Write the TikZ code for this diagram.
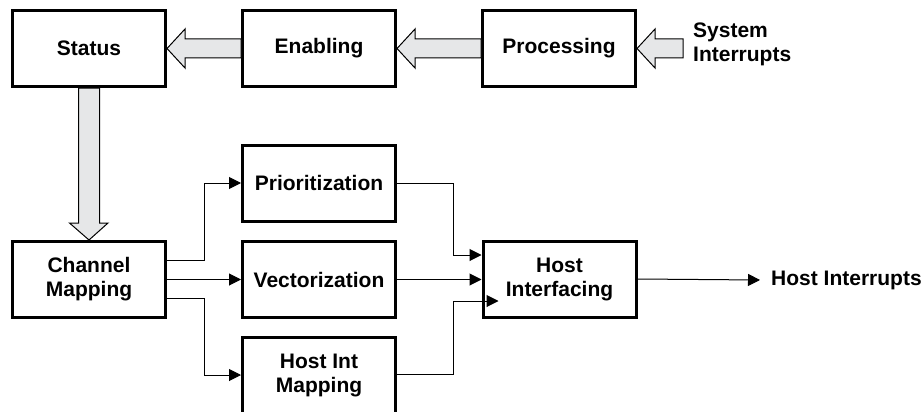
\documentclass[tikz,border=0pt]{standalone}
\usepackage{fontspec}
\setmainfont{Liberation Sans}
\usetikzlibrary{arrows.meta,calc}
\definecolor{fatgray}{HTML}{E6E7E8}
\begin{document}
\begin{tikzpicture}[x=1pt,y=-1pt,
  blk/.style={draw,line width=3pt,minimum width=153pt,minimum height=76pt,
    inner sep=0pt,align=center,font=\fontsize{21}{24}\selectfont\bfseries},
  lbl/.style={inner sep=0pt,align=left,font=\fontsize{21}{24}\selectfont\bfseries},
  thin/.style={line width=1pt,-{Triangle[length=12pt,width=12pt]}},
  fat/.style={draw=black,line width=1pt,fill=fatgray,line join=miter}]
\clip (0,0) rectangle (923,412);
\useasboundingbox (0,0) rectangle (923,412);
% boxes
\node[blk] (st) at (89,48.5) {Status};
\node[blk] (en) at (319,48.5) {Enabling};
\node[blk] (pc) at (559,48.5) {Processing};
\node[blk] (ch) at (89,279.5) {Channel\\Mapping};
\node[blk] (pr) at (319,183) {Prioritization};
\node[blk] (ve) at (319,279.5) {Vectorization};
\node[blk] (hm) at (319,375) {Host Int\\Mapping};
\node[blk] (hf) at (559.5,279) {Host\\Interfacing};
% labels
\node[lbl,anchor=west,inner xsep=10pt] (si) at (683,44.5) {System\\Interrupts};
\node[lbl,anchor=west,inner xsep=11pt] (ho) at (760,280) {Host Interrupts};
% fat arrows
\path (si.west |- pc.east) coordinate (sit);
\draw[fat] (pc.east) -- ++(18,-19.5) -- ++(0,10) -- ($(sit)+(0,-9.5)$) -- ($(sit)+(0,9.5)$) -- ($(pc.east)+(18,9.5)$) -- ++(0,10) -- cycle;
\draw[fat] (en.east) -- ++(18,-19.5) -- ++(0,10) -- ($(pc.west)+(0,-9.5)$) -- ($(pc.west)+(0,9.5)$) -- ($(en.east)+(18,9.5)$) -- ++(0,10) -- cycle;
\draw[fat] (st.east) -- ++(18,-19.5) -- ++(0,10) -- ($(en.west)+(0,-9.5)$) -- ($(en.west)+(0,9.5)$) -- ($(st.east)+(18,9.5)$) -- ++(0,10) -- cycle;
\draw[fat] (ch.north) -- ++(-19.5,-17) -- ++(9,0) -- ($(st.south)+(-10.5,0)$) -- ($(st.south)+(10.5,0)$) -- ($(ch.north)+(10.5,-17)$) -- ++(8.5,0) -- cycle;
% thin connectors
\draw[thin] ($(ch.east)+(0,-19.5)$) -| (204,183) -- (pr.west);
\draw[thin] (ch.east) -- (ve.west);
\draw[thin] ($(ch.east)+(0,18.5)$) -| (204,375) -- (hm.west);
\draw[thin] (pr.east) -| (453,255) -- ($(hf.west)+(0,-24)$);
\draw[thin] (ve.east) -- (ve.east -| hf.west);
\draw[thin] ($(hm.east)+(0,-1)$) -| (453,301) -- ($(hf.west)+(17,22)$);
\draw[thin] (hf.east) -- (ho.west);
\end{tikzpicture}
\end{document}
